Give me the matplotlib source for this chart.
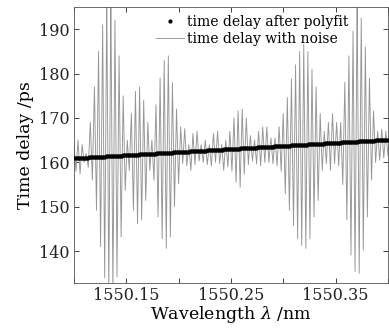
import numpy as np
import matplotlib
matplotlib.use("Agg")
import matplotlib.pyplot as plt

plt.rcParams['font.family'] = ['DejaVu Serif']
plt.rcParams['mathtext.fontset'] = 'dejavuserif'

# upper and lower excursions of the noisy delay curve, one pair per oscillation cycle
noise_high = [164, 165, 164, 162, 169, 177, 185, 191, 197, 197, 192, 184, 175, 165,
              171, 176, 177, 174, 169, 165, 173, 179, 183, 184, 178, 172, 168, 167.6,
              164, 166.5, 167, 164, 165, 164, 166.5, 167, 164, 165, 167, 170, 171.6,
              172, 170, 166, 165, 167, 168, 168, 165.5, 165.5, 168, 171, 174.6, 178.8,
              182, 185, 186.6, 185, 181, 177, 171, 167, 169, 171, 169, 169, 178, 184,
              189.6, 197, 192.5, 186, 179, 171.6, 167, 167.5, 167, 169]
noise_low = [158, 157.4, 160, 158.9, 156, 149.2, 141, 134, 131, 131, 134.2, 143.2, 153.7,
             158.2, 149.2, 146.2, 147, 151.4, 158.2, 156, 147.7, 142.8, 140.6, 143.2, 150,
             155.2, 159.7, 159.2, 158.2, 159.5, 160.3, 160, 159.5, 159.2, 160, 159.7,
             158.2, 159, 158, 155.5, 154.4, 157.3, 159.5, 160.3, 159.7, 159.2, 160, 160,
             159.7, 159.2, 158, 152.9, 149.2, 145.8, 142.8, 141.3, 140.6, 142.8, 147.7,
             151.4, 158.2, 159.7, 158.2, 159.7, 159.2, 155, 147, 139.1, 135.4, 135, 140.2,
             147.7, 156, 160, 160.5, 161, 161.5, 162]
wl_start, wl_end = 1550.100, 1550.404

# linear polyfit result: delay at the two ends of the wavelength range
fit_wl = [1550.10, 1550.40]
fit_delay = [160.9, 165.1]

xticks = [1550.10, 1550.15, 1550.20, 1550.25, 1550.30, 1550.35, 1550.40]
xtick_labels = ['', '1550.15', '', '1550.25', '', '1550.35', '']
yticks = [140, 150, 160, 170, 180, 190]

n = len(noise_high)
noise_y = np.empty(2 * n)
noise_y[0::2] = noise_high
noise_y[1::2] = noise_low
noise_x = np.linspace(wl_start, wl_end, 2 * n)

coef = np.polyfit(fit_wl, fit_delay, 1)
fx = np.linspace(fit_wl[0], fit_wl[1], 1200)
fy = np.polyval(coef, fx)

fig = plt.figure(figsize=(3.89, 3.35), dpi=100)
ax = fig.add_axes([0.190, 0.155, 0.807, 0.824])

ax.plot(noise_x, noise_y, color='#959595', lw=0.65, label='time delay with noise', zorder=2)
ax.plot(fx, fy, ls='none', marker='.', ms=5, mew=0, color='black',
        label='time delay after polyfit', zorder=3)

ax.set_xlim(1550.10, 1550.40)
ax.set_ylim(132.8, 195)
ax.set_xticks(xticks)
ax.set_xticklabels(xtick_labels)
ax.set_yticks(yticks)
ax.tick_params(direction='in', length=3.5, width=0.6, top=True, right=True,
               labelsize=11.5, pad=3, colors='#222222')
for s in ax.spines.values():
    s.set_linewidth(0.6)
    s.set_color('#555555')

ax.set_xlabel(r'Wavelength $\lambda$ /nm', fontsize=12.5, labelpad=0)
ax.set_ylabel('Time delay /ps', fontsize=12.5, labelpad=4)

h, l = ax.get_legend_handles_labels()
ax.legend(h[::-1], l[::-1], loc='upper right', bbox_to_anchor=(0.905, 1.007), frameon=False,
          fontsize=10, handlelength=2.0, handletextpad=0.2, labelspacing=0.25,
          borderpad=0.2, markerscale=1.2)

fig.savefig('out.png', dpi=100)
